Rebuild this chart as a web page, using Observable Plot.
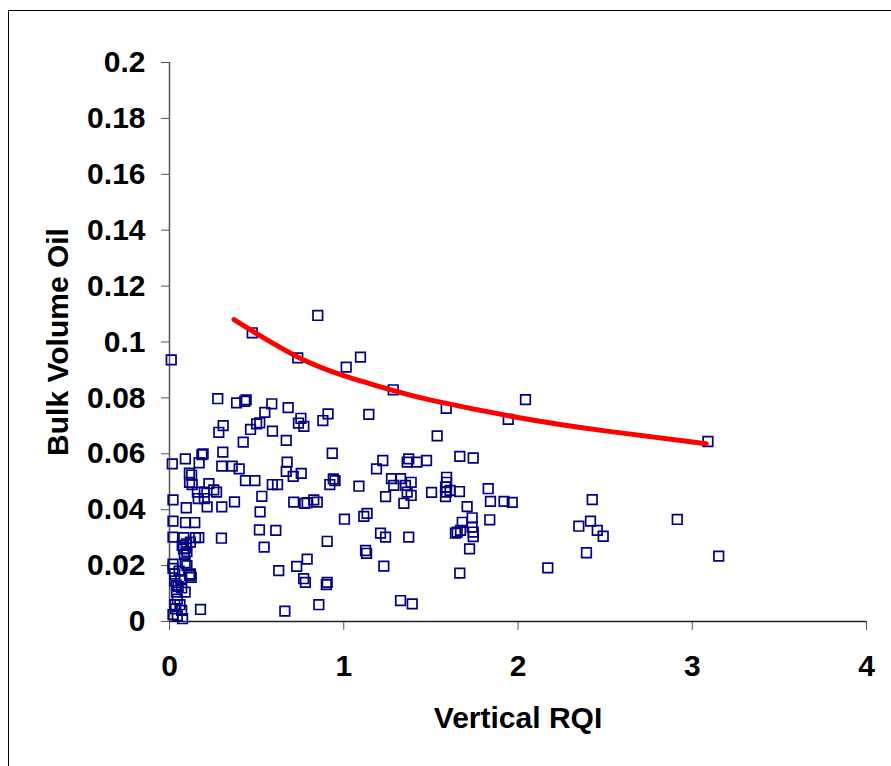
<!DOCTYPE html>
<html>
<head>
<meta charset="utf-8">
<script src="https://cdn.jsdelivr.net/npm/d3@7"></script>
<script src="https://cdn.jsdelivr.net/npm/@observablehq/plot@0.6"></script>
<style>
  html, body { margin: 0; padding: 0; background: #fff; overflow: hidden; width: 891px; height: 766px; }
  #frame { position: absolute; left: 8px; top: 10px; width: 1000px; height: 1000px; border: 1.5px solid #000; box-sizing: border-box; }
  #chart { position: absolute; left: 0; top: 0; }
</style>
</head>
<body>
<div id="frame"></div>
<div id="chart"></div>
<script>
// Scatter data: Vertical RQI (x) vs Bulk Volume Oil (y)
const rqi = [
  0.01,0.475,0.851,0.736,1.014,1.096,1.284,0.277,0.385,0.44,0.432,0.587,0.681,0.91,0.88,0.547,0.308,0.283,0.465,0.50,
  0.518,0.591,0.754,0.74,0.771,0.423,0.67,0.934,0.306,1.144,1.588,2.043,1.944,1.536,3.09,
  0.016,0.091,0.17,0.186,0.193,0.114,0.127,0.115,0.13,0.30,0.36,0.40,0.675,0.67,0.71,0.756,0.226,0.254,0.27,0.436,
  0.49,0.59,0.62,0.92,0.95,0.94,0.16,0.2,0.165,0.2,0.216,0.02,0.096,0.30,0.373,0.53,0.52,0.713,0.776,0.828,
  0.848,0.79,1.224,1.188,1.373,1.364,1.42,1.475,1.666,1.743,1.087,1.274,1.326,1.287,1.354,1.387,1.364,1.387,1.345,1.24,
  1.504,1.59,1.59,1.584,1.59,1.584,1.61,1.664,1.829,1.842,1.92,1.967,1.708,2.426,
  1.004,1.115,1.134,1.737,1.737,1.743,1.743,1.838,1.68,1.651,1.641,1.67,1.211,1.24,1.373,0.905,1.125,1.131,1.722,2.349,
  2.416,2.455,2.489,2.393,2.914,3.152,0.543,0.516,0.61,0.298,0.02,0.092,0.145,0.02,0.082,0.149,0.168,0.073,0.098,0.12,
  0.08,0.095,0.085,0.10,
  0.79,0.73,0.627,0.77,0.78,0.905,0.9,1.23,1.666,2.171,1.326,1.393,0.857,0.662,0.178,0.02,0.02,0.09,0.1,0.12,
  0.125,0.115,0.03,0.03,0.05,0.04,0.09,0.045,0.06,0.035,0.07,0.02,0.045,0.075,0.03,0.04,0.07,0.055,0.065
];
const bvo = [
  0.0936,0.1033,0.1095,0.0943,0.091,0.0946,0.0829,0.0797,0.0782,0.0793,0.0788,0.0779,0.0765,0.0743,0.0719,0.0748,0.0701,0.0677,0.0687,0.0707,
  0.0711,0.0681,0.0727,0.071,0.0698,0.0642,0.0648,0.0602,0.0606,0.0741,0.0763,0.0794,0.0723,0.0664,0.0644,
  0.0564,0.0582,0.0568,0.0597,0.060,0.0531,0.0524,0.0498,0.049,0.0556,0.0556,0.0546,0.057,0.0537,0.0519,0.053,0.0493,0.0471,0.0463,0.0504,
  0.0504,0.049,0.049,0.049,0.0504,0.051,0.0463,0.0463,0.044,0.044,0.041,0.0435,0.0407,0.041,0.0428,0.0448,0.0392,0.0427,0.0423,0.0435,
  0.0427,0.0425,0.0576,0.0546,0.0582,0.057,0.057,0.0576,0.0591,0.0585,0.0484,0.0511,0.0511,0.0487,0.0487,0.0498,0.0463,0.0451,0.0423,0.0447,
  0.0462,0.0516,0.0498,0.0481,0.0463,0.0447,0.0469,0.0465,0.0475,0.043,0.043,0.0426,0.0411,0.0436,
  0.0366,0.0376,0.0387,0.0371,0.0338,0.032,0.0304,0.0364,0.0355,0.032,0.0316,0.0326,0.0316,0.0302,0.0302,0.0287,0.0254,0.0244,0.026,0.0341,
  0.0359,0.0326,0.0305,0.0246,0.0365,0.0234,0.0266,0.0328,0.0326,0.0298,0.0359,0.0354,0.0354,0.0302,0.030,0.030,0.030,0.0272,0.0278,0.0284,
  0.026,0.0262,0.024,0.025,
  0.0223,0.0197,0.0182,0.0153,0.014,0.014,0.0132,0.0198,0.0173,0.0192,0.0075,0.0063,0.006,0.0037,0.0043,0.0205,0.019,0.021,0.02,0.017,
  0.0158,0.0165,0.017,0.0145,0.0125,0.0105,0.0105,0.008,0.006,0.0045,0.004,0.0025,0.002,0.001,0.006,0.013,0.012,0.018,0.015
];
// Trend curve
const trendX = [0.37, 0.5, 0.75, 1.0, 1.28, 1.5, 2.0, 2.5, 3.08];
const trendY = [0.108, 0.103, 0.0942, 0.088, 0.0827, 0.0792, 0.073, 0.0682, 0.0636];
// Axis ticks
const xTicks = [0, 1, 2, 3, 4];
const yTicks = [0, 0.02, 0.04, 0.06, 0.08, 0.1, 0.12, 0.14, 0.16, 0.18, 0.2];
const xTitle = "Vertical RQI";
const yTitle = "Bulk Volume Oil";

const points = rqi.map((x, i) => ({x, y: bvo[i]}));
const trend = trendX.map((x, i) => ({x, y: trendY[i]}));

const fontFamily = "'Liberation Sans', Arial, Helvetica, sans-serif";
const axisColor = "#555";

const chart = Plot.plot({
  width: 891,
  height: 766,
  marginLeft: 169,
  marginRight: 25,
  marginTop: 62,
  marginBottom: 145,
  style: {fontFamily, fontWeight: "bold", fontSize: "30px", color: "#000", background: "transparent", overflow: "visible"},
  x: {domain: [0, 4]},
  y: {domain: [0, 0.2]},
  marks: [
    Plot.axisY(yTicks, {
      tickSize: 8, tickPadding: 16, fontSize: 30, stroke: axisColor, fill: "#000",
      tickFormat: d => String(+d.toFixed(2)), label: null
    }),
    Plot.axisX(xTicks, {
      tickSize: 9, tickPadding: 24, fontSize: 30, stroke: axisColor, fill: "#000",
      tickFormat: d => String(d), label: null
    }),
    Plot.ruleX([0], {stroke: axisColor, strokeWidth: 1.5}),
    Plot.ruleY([0], {stroke: "#222", strokeWidth: 1.5}),
    Plot.dot(points, {x: "x", y: "y", symbol: "square", r: 5.4, fill: "none", stroke: "#000080", strokeWidth: 1.7}),
    Plot.line(trend, {x: "x", y: "y", curve: "natural", stroke: "#ff0000", strokeWidth: 5, strokeLinecap: "round"}),
    Plot.text([xTitle], {frameAnchor: "bottom", dy: 106, textAnchor: "middle", fontSize: 30, fontWeight: "bold", fill: "#000"}),
    Plot.text([yTitle], {frameAnchor: "left", dx: -111, rotate: -90, textAnchor: "middle", fontSize: 30, fontWeight: "bold", fill: "#000"})
  ]
});
document.getElementById("chart").appendChild(chart);
</script>
</body>
</html>
